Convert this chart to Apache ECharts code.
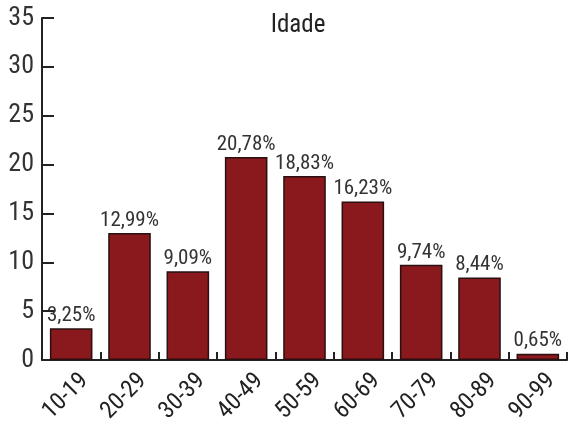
<!DOCTYPE html>
<html>
<head>
<meta charset="utf-8">
<script src="https://cdn.jsdelivr.net/npm/echarts@6/dist/echarts.min.js"></script>
<style>
  html, body { margin: 0; padding: 0; background: #fff; }
  #chart { width: 568px; height: 421px; }
</style>
</head>
<body>
<div id="chart"></div>
<script>
var categories = ["10-19", "20-29", "30-39", "40-49", "50-59", "60-69", "70-79", "80-89", "90-99"];
var values = [3.25, 12.99, 9.09, 20.78, 18.83, 16.23, 9.74, 8.44, 0.65];
var labels = ["3,25%", "12,99%", "9,09%", "20,78%", "18,83%", "16,23%", "9,74%", "8,44%", "0,65%"];
var titleText = "Idade";

var font = "'Roboto Condensed', 'DejaVu Sans Condensed', sans-serif";

var myChart = echarts.init(document.getElementById("chart"));
myChart.setOption({
  backgroundColor: "#ffffff",
  animation: false,
  title: {
    text: titleText,
    left: 293,
    top: 8,
    textAlign: "center",
    textStyle: { fontFamily: font, fontSize: 25, fontWeight: "normal", color: "#222" }
  },
  grid: { left: 42, right: 1, top: 18, bottom: 61, containLabel: false, outerBoundsMode: "none" },
  xAxis: {
    type: "category",
    data: categories,
    axisLine: { lineStyle: { color: "#222", width: 2 } },
    axisTick: { show: true, inside: true, length: 8, lineStyle: { color: "#222", width: 2 } },
    axisLabel: {
      rotate: 45,
      interval: 0,
      margin: 4,
      verticalAlign: "top",
      padding: [7, 0, 0, 0],
      color: "#222",
      fontFamily: font,
      fontSize: 24
    }
  },
  yAxis: {
    type: "value",
    min: 0,
    max: 35,
    interval: 5,
    axisLine: { show: true, lineStyle: { color: "#222", width: 2 } },
    axisTick: { show: true, inside: true, length: 12, lineStyle: { color: "#222", width: 2 } },
    splitLine: { show: false },
    axisLabel: { color: "#333", fontFamily: font, fontSize: 26, margin: 8 }
  },
  series: [{
    type: "bar",
    data: values,
    barWidth: "73%",
    itemStyle: { color: "#8a191e", borderColor: "#2a1010", borderWidth: 1.5 },
    label: {
      show: true,
      position: "top",
      distance: 2,
      color: "#333",
      fontFamily: font,
      fontSize: 21,
      formatter: function (p) { return labels[p.dataIndex]; }
    }
  }]
});
</script>
</body>
</html>
